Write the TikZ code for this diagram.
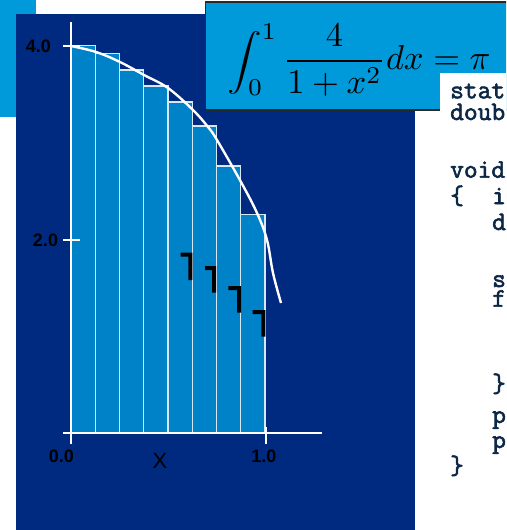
\documentclass[tikz,border=0pt]{standalone}
\usepackage{graphicx}
\usepackage{fontspec}
\newfontfamily\arialf{Liberation Sans}
\newfontfamily\codef[FakeBold=2.2]{Latin Modern Mono}
\definecolor{navy}{RGB}{0,41,128}
\definecolor{lblue}{RGB}{0,154,219}
\definecolor{barblue}{RGB}{0,130,200}
\definecolor{barline}{RGB}{215,232,245}
\definecolor{codecol}{RGB}{12,40,70}
\definecolor{boxline}{RGB}{40,40,40}
\tikzset{
  barbox/.style={fill=barblue,draw=barline,line width=1.3pt},
  axisline/.style={draw=white,line width=2.6pt},
  tickline/.style={draw=white,line width=2pt},
  numlabel/.style={inner sep=0pt,font=\arialf\bfseries\fontsize{18}{20}\selectfont,text=black},
  codeline/.style={inner sep=0pt,anchor=base west,text=codecol,font=\codef\fontsize{26.7}{28}\selectfont},
  markshape/.style={fill=black}
}
\newcommand{\squashint}{\mathop{\scalebox{1}[0.82]{$\displaystyle\int$}}\nolimits}
\begin{document}
\begin{tikzpicture}[x=1pt,y=-1pt]
\useasboundingbox (0,0) rectangle (506,530);
\clip (0,0) rectangle (506,530);
% background pieces
\fill[lblue] (0,0) rectangle (36,117);
\fill[navy] (16,14) rectangle (415,530);
% bars
\foreach \xa/\xb/\top in {71/95.25/45.7, 95.25/119.5/53.7, 119.5/143.75/70, 143.75/168/86, 168/192.25/102, 192.25/216.5/126, 216.5/240.75/166, 240.75/265/214.3}
  \draw[barbox] (\xa,433) rectangle (\xb,\top);
% axes
\coordinate (yaxtop) at (71,22);
\coordinate (yaxbot) at (71,444);
\coordinate (xaxl) at (63,433);
\coordinate (xaxr) at (322,433);
\draw[axisline] (yaxbot) -- (yaxtop);
\draw[axisline] (xaxl) -- (xaxr);
\coordinate (t4a) at (63,46); \coordinate (t4b) at (80,46);
\coordinate (t2a) at (63,240); \coordinate (t2b) at (80,240);
\coordinate (t1a) at (265.5,427); \coordinate (t1b) at (265.5,444);
\draw[tickline] (t4a) -- (t4b);
\draw[tickline] (t2a) -- (t2b);
\draw[tickline] (t1a) -- (t1b);
% curve
\draw[white,line width=2.4pt] plot[smooth,tension=0.6] coordinates {(71,46) (96,52) (120,62) (144,75) (168,88) (193,110) (208,127) (217,140) (241,182) (257,213) (267,240) (273,273) (281,303)};
% marks
\foreach \xa/\xb/\ya/\yb in {180.7/192.3/252.7/280, 205/216/266/292.7, 228.3/241/286/312.7, 252.7/265.3/310/336.7}
  \fill[markshape] (\xa,\ya) -- (\xb,\ya) -- (\xb,\yb) -- (\xb-4,\yb) -- (\xb-4,\ya+4) -- (\xa,\ya+4) -- cycle;
% labels
\node[numlabel] (l4) at (38.3,46) {4.0};
\node[numlabel] (l2) at (45.5,240) {2.0};
\node[numlabel] (l0) at (61.3,456) {0.0};
\node[numlabel] (l1) at (263.8,456) {1.0};
\node[inner sep=0pt,font=\arialf\fontsize{22}{24}\selectfont] (lx) at (160,460.5) {X};
% formula box
\draw[fill=lblue,draw=boxline,line width=1.5pt] (205.7,2) rectangle (520,110);
\node[inner sep=0pt] (formula) at (359,60) {\scalebox{3.45}{$\displaystyle\squashint_{\kern-4pt 0}^1 \frac{4}{1+x^2}dx=\pi$}};
% code box
\fill[white] (440,73) rectangle (520,530);
\node[codeline] (c1) at (450,98.3) {stat};
\node[codeline] (c2) at (450,120) {doub};
\node[codeline] (c3) at (450,177.7) {void};
\node[codeline] (c4a) at (450,204) {\{};
\node[codeline] (c4b) at (492,204) {i};
\node[codeline] (c5) at (492,230) {d};
\node[codeline] (c6) at (492,287) {s};
\node[codeline] (c7) at (492,306.7) {f};
\node[codeline] (c8) at (492,392) {\}};
\node[codeline] (c9) at (492,423) {p};
\node[codeline] (c10) at (492,448) {p};
\node[codeline] (c11) at (450,474) {\}};
\end{tikzpicture}
\end{document}
